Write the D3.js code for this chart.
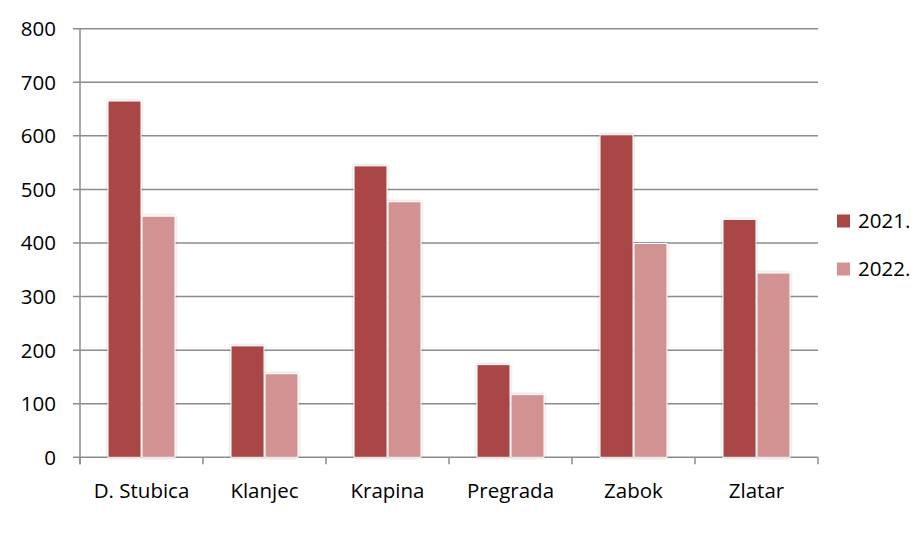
<!DOCTYPE html>
<html><head><meta charset="utf-8">
<script src="https://cdn.jsdelivr.net/npm/d3@7/dist/d3.min.js"></script>
<style>body{margin:0;background:#fff;}svg{display:block;font-family:"Open Sans",sans-serif;}</style>
</head><body>
<svg id="c" width="919" height="533"></svg>
<script>
const categories = ["D. Stubica","Klanjec","Krapina","Pregrada","Zabok","Zlatar"];
const seriesNames = ["2021.","2022."];
const values2021 = [665, 208, 544, 173, 602, 444];
const values2022 = [450, 156, 477, 117, 399, 344];
const yTicks = [0,100,200,300,400,500,600,700,800];
const colors = ["#A94646","#D39292"];

(function(){
const svg = d3.select("#c");
const pLeft = 80, pRight = 818, pTop = 28.7, pBottom = 457.3;
const fs = 20.5;
const x = d3.scaleBand().domain(categories).range([pLeft, pRight]).paddingInner(0).paddingOuter(0);
const x1 = d3.scaleBand().domain(seriesNames).range([27, 123 - 27]).padding(0.03);
const y = d3.scaleLinear().domain([0, 800]).range([pBottom, pTop]);

const defs = svg.append("defs");
const f = defs.append("filter").attr("id","sh").attr("x","-20%").attr("y","-5%").attr("width","140%").attr("height","110%");
f.append("feGaussianBlur").attr("in","SourceAlpha").attr("stdDeviation",1.5).attr("result","b");
f.append("feComponentTransfer").attr("in","b").attr("result","t").append("feFuncA").attr("type","linear").attr("slope",0.25);
const m = f.append("feMerge"); m.append("feMergeNode").attr("in","t"); m.append("feMergeNode").attr("in","SourceGraphic");

// gridlines
svg.append("g").selectAll("line").data(yTicks).join("line")
  .attr("x1", pLeft - 7).attr("x2", pRight).attr("y1", d => y(d)).attr("y2", d => y(d))
  .attr("stroke", "#8c8c8c").attr("stroke-width", 1.5);

// y axis line
svg.append("line").attr("x1", pLeft).attr("x2", pLeft).attr("y1", y(800)).attr("y2", y(0) + 7)
  .attr("stroke", "#8c8c8c").attr("stroke-width", 1.5);

// x tick marks at boundaries
const bounds = categories.map(c => x(c)).concat([pRight]);
svg.append("g").selectAll("line").data(bounds).join("line")
  .attr("x1", d => d).attr("x2", d => d).attr("y1", y(0)).attr("y2", y(0) + 7)
  .attr("stroke", "#8c8c8c").attr("stroke-width", 1.5);

// y labels
svg.append("g").selectAll("text").data(yTicks).join("text")
  .attr("x", 56).attr("y", d => y(d)).attr("dy", "0.36em").attr("text-anchor", "end")
  .attr("font-size", fs).attr("fill", "#000").text(d => d);

// bars
const data = categories.map((c, i) => ({c, vals: [values2021[i], values2022[i]]}));
const g = svg.append("g");
data.forEach(d => {
  d.vals.forEach((v, j) => {
    g.append("rect")
      .attr("x", x(d.c) + x1(seriesNames[j]))
      .attr("width", x1.bandwidth())
      .attr("y", y(v)).attr("height", y(0) - y(v))
      .attr("fill", colors[j]).attr("stroke", "#fff").attr("stroke-width", 1)
      .attr("filter", "url(#sh)");
  });
});

// x labels
svg.append("g").selectAll("text").data(categories).join("text")
  .attr("x", d => x(d) + x.bandwidth() / 2).attr("y", 497.5).attr("text-anchor", "middle")
  .attr("font-size", fs).attr("fill", "#000").text(d => d);

// legend
const lg = svg.append("g");
seriesNames.forEach((s, i) => {
  const cy = 221 + i * 48;
  lg.append("rect").attr("x", 837).attr("y", cy - 6.5).attr("width", 13).attr("height", 13).attr("fill", colors[i]);
  lg.append("text").attr("x", 858).attr("y", cy).attr("dy", "0.36em").attr("font-size", fs).attr("fill", "#000").text(s);
});
})();
</script>
</body></html>
